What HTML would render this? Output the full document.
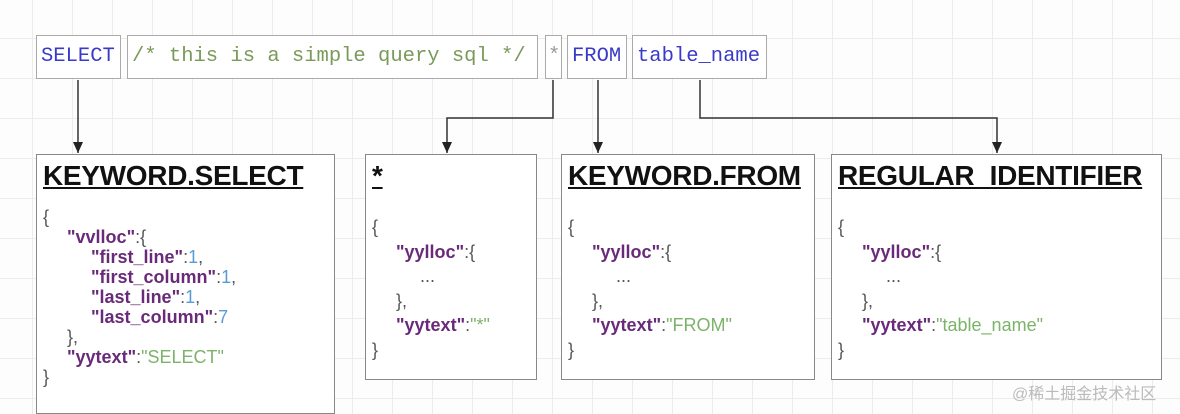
<!DOCTYPE html>
<html><head><meta charset="utf-8"><style>
html,body{margin:0;padding:0}
body{width:1180px;height:407px;position:relative;overflow:hidden;background:#fdfdfd;
background-image:linear-gradient(#ececec 1px,transparent 1px),linear-gradient(90deg,#ececec 1px,transparent 1px);background-size:40px 40px;background-position:-8px -2px;font-family:"Liberation Sans",sans-serif}
.tk{position:absolute;top:35px;height:44px;border:1px solid #aaa;background:#fff;box-sizing:border-box;font-family:"Liberation Mono",monospace;font-size:20.5px;line-height:42px;padding-left:4px;white-space:nowrap}
.bx{position:absolute;top:154px;border:1.5px solid #888;background:#fff;box-sizing:border-box}
.t{position:absolute;left:6px;top:5px;font-weight:bold;font-size:28px;text-decoration:underline;color:#111;letter-spacing:-0.3px;white-space:nowrap}
.j{position:absolute;left:6px;font-size:18px;line-height:20px;color:#555;white-space:nowrap}
.j div{height:20px}
.i1{padding-left:24px}.i2{padding-left:48px}
.k{color:#6a2a7a;font-weight:bold}.s{color:#7cb36a}.n{color:#5b9bd5}
</style></head><body>
<div class="tk" style="left:36px;width:85px;color:#3a3ac8">SELECT</div>
<div class="tk" style="left:127px;width:411px;color:#7a9a5a">/* this is a simple query sql */</div>
<div class="tk" style="left:545px;width:17px;color:#999;padding-left:2px">*</div>
<div class="tk" style="left:567px;width:60px;color:#3a3ac8">FROM</div>
<div class="tk" style="left:632px;width:135px;color:#3a3ac8">table_name</div>

<svg style="position:absolute;left:0;top:0" width="1180" height="407">
<defs><marker id="a" markerWidth="12" markerHeight="12" refX="11" refY="6" orient="auto" markerUnits="userSpaceOnUse"><path d="M0,1 L11,6 L0,11z" fill="#222"/></marker></defs>
<g stroke="#333" stroke-width="1.5" fill="none">
<path d="M78,80 V153" marker-end="url(#a)"/>
<path d="M553,80 V118 H447 V153" marker-end="url(#a)"/>
<path d="M598,80 V153" marker-end="url(#a)"/>
<path d="M700,80 V118 H997 V153" marker-end="url(#a)"/>
</g></svg>

<div class="bx" style="left:36px;width:299px;height:260px">
<div class="t">KEYWORD.SELECT</div>
<div class="j" style="top:52px">
<div>{</div>
<div class="i1"><span class="k">"vvlloc"</span>:{</div>
<div class="i2"><span class="k">"first_line"</span>:<span class="n">1</span>,</div>
<div class="i2"><span class="k">"first_column"</span>:<span class="n">1</span>,</div>
<div class="i2"><span class="k">"last_line"</span>:<span class="n">1</span>,</div>
<div class="i2"><span class="k">"last_column"</span>:<span class="n">7</span></div>
<div class="i1">},</div>
<div class="i1"><span class="k">"yytext"</span>:<span class="s">"SELECT"</span></div>
<div>}</div>
</div></div>

<div class="bx" style="left:365px;width:172px;height:226px">
<div class="t">*</div>
<div class="j" style="top:62px">
<div style="height:24.5px">{</div>
<div class="i1" style="height:24.5px"><span class="k">"yylloc"</span>:{</div>
<div class="i2" style="height:24.5px">...</div>
<div class="i1" style="height:24.5px">},</div>
<div class="i1" style="height:24.5px"><span class="k">"yytext"</span>:<span class="s">"*"</span></div>
<div>}</div>
</div></div>

<div class="bx" style="left:561px;width:254px;height:226px">
<div class="t">KEYWORD.FROM</div>
<div class="j" style="top:62px">
<div style="height:24.5px">{</div>
<div class="i1" style="height:24.5px"><span class="k">"yylloc"</span>:{</div>
<div class="i2" style="height:24.5px">...</div>
<div class="i1" style="height:24.5px">},</div>
<div class="i1" style="height:24.5px"><span class="k">"yytext"</span>:<span class="s">"FROM"</span></div>
<div>}</div>
</div></div>

<div class="bx" style="left:831px;width:331px;height:226px">
<div class="t">REGULAR_IDENTIFIER</div>
<div class="j" style="top:62px">
<div style="height:24.5px">{</div>
<div class="i1" style="height:24.5px"><span class="k">"yylloc"</span>:{</div>
<div class="i2" style="height:24.5px">...</div>
<div class="i1" style="height:24.5px">},</div>
<div class="i1" style="height:24.5px"><span class="k">"yytext"</span>:<span class="s">"table_name"</span></div>
<div>}</div>
</div></div>

<div style="position:absolute;left:1012px;top:380px;font-size:16px;color:#bbb;font-family:'Liberation Sans','Noto Sans CJK SC',sans-serif">@稀土掘金技术社区</div>
</body></html>
